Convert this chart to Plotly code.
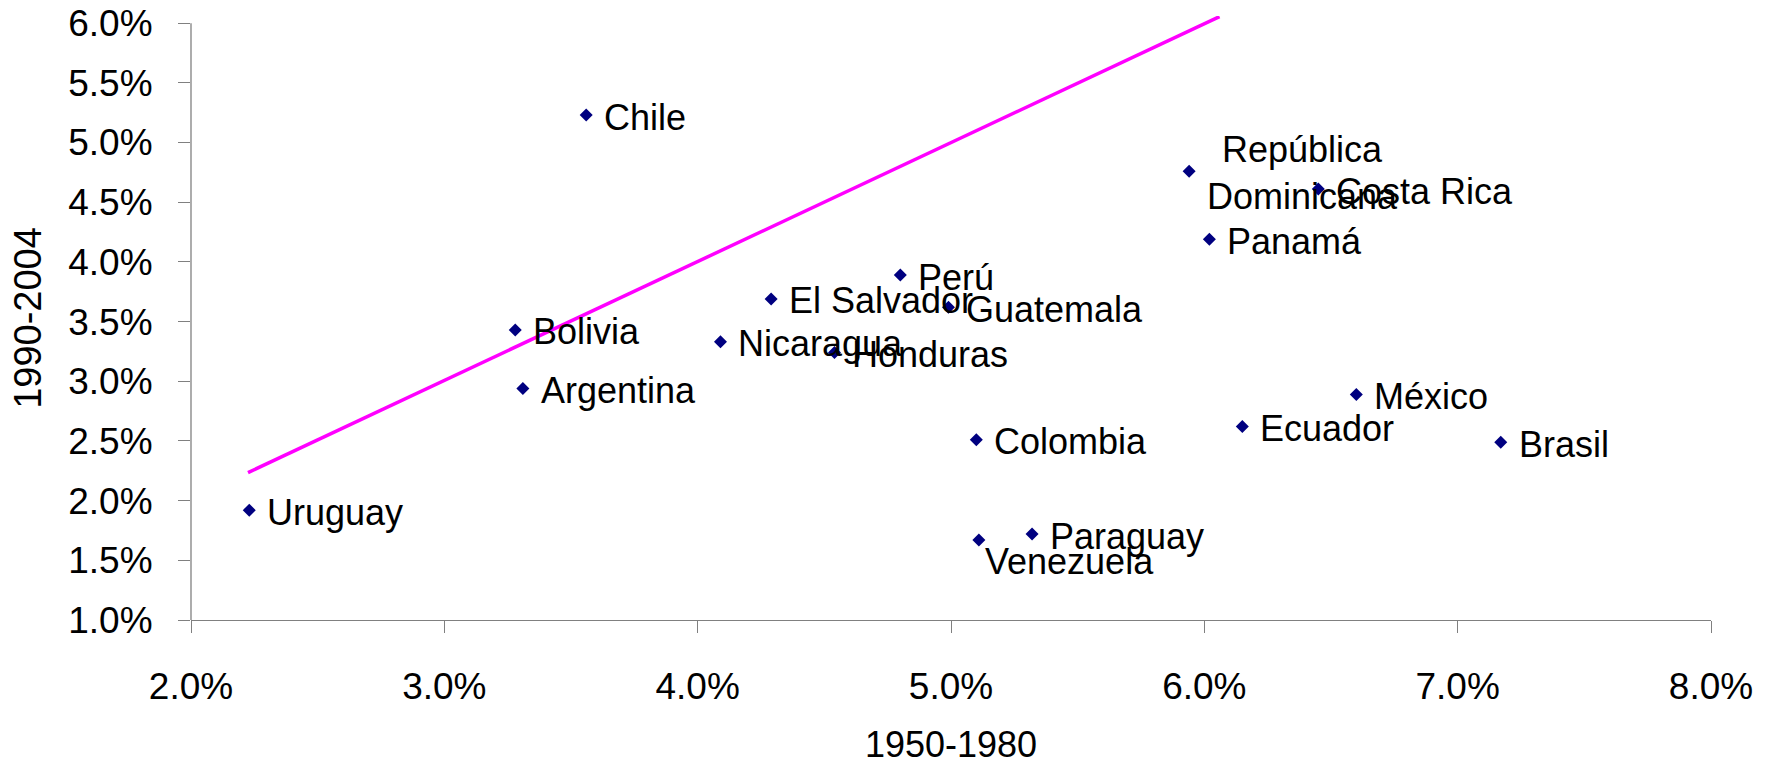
import plotly.graph_objects as go

# ---- data (growth rates, %) ----
countries = ["Chile", "Bolivia", "Argentina", "Uruguay", "Nicaragua", "El Salvador",
             "Perú", "Honduras", "Guatemala", "Colombia", "Venezuela", "Paraguay",
             "República<br>Dominicana", "Costa Rica", "Panamá", "Ecuador", "México", "Brasil"]
growth_1950_1980 = [3.56, 3.28, 3.31, 2.23, 4.09, 4.29, 4.80, 4.54, 4.99, 5.10, 5.11, 5.32,
                    5.94, 6.45, 6.02, 6.15, 6.60, 7.17]
growth_1990_2004 = [5.23, 3.43, 2.94, 1.92, 3.33, 3.69, 3.89, 3.24, 3.62, 2.51, 1.67, 1.72,
                    4.76, 4.61, 4.19, 2.62, 2.89, 2.49]

trend_x = [2.225, 6.06]
trend_y = [2.235, 6.055]

x_ticks = [2, 3, 4, 5, 6, 7, 8]
y_ticks = [1.0, 1.5, 2.0, 2.5, 3.0, 3.5, 4.0, 4.5, 5.0, 5.5, 6.0]

FONT = "Arial, 'Liberation Sans', sans-serif"
AXIS_GREY = "#808080"

# y range reaches a little above the top tick so the trend line is not cut off there
Y_MIN, Y_MAX, Y_TOP_TICK = 1.0, 6.06, 6.0
PLOT_TOP_PX, PLOT_BOTTOM_PX = 23.3, 620.0
px_per_unit = (PLOT_BOTTOM_PX - PLOT_TOP_PX) / (Y_TOP_TICK - Y_MIN)
top_margin = PLOT_TOP_PX - (Y_MAX - Y_TOP_TICK) * px_per_unit

# label offsets (pixels) where the label is not simply to the right
label_shift = {"Venezuela": (4, -21)}

fig = go.Figure()

fig.add_trace(go.Scatter(
    x=trend_x, y=trend_y, mode="lines",
    line=dict(color="#FF00FF", width=3.5),
    hoverinfo="skip", showlegend=False,
))

fig.add_trace(go.Scatter(
    x=growth_1950_1980, y=growth_1990_2004, mode="markers",
    marker=dict(symbol="diamond", size=10, color="#000080"),
    text=countries, cliponaxis=False, showlegend=False,
))

for name, xv, yv in zip(countries, growth_1950_1980, growth_1990_2004):
    dx, dy = label_shift.get(name, (16, -2))
    fig.add_annotation(
        x=xv, y=yv, xref="x", yref="y", text=name, showarrow=False,
        xanchor="left", yanchor="middle", xshift=dx, yshift=dy, align="center",
        font=dict(family=FONT, size=36, color="black"),
    )

# vertical axis line only up to the top tick (6.0%)
fig.add_shape(type="line", xref="paper", yref="y", x0=0, x1=0, y0=Y_MIN, y1=Y_TOP_TICK,
              line=dict(color=AXIS_GREY, width=1.3), layer="above")

fig.update_layout(
    width=1775, height=765,
    margin=dict(l=191, r=64, t=top_margin, b=765 - PLOT_BOTTOM_PX, autoexpand=False),
    paper_bgcolor="white", plot_bgcolor="white",
    font=dict(family=FONT, color="black"),
    showlegend=False,
)

fig.update_xaxes(
    range=[2, 8], tickvals=x_ticks, ticktext=[f"{v:.1f}%" for v in x_ticks],
    showgrid=False, zeroline=False, showline=True, linecolor=AXIS_GREY, linewidth=1.3,
    ticks="outside", ticklen=12, tickcolor=AXIS_GREY, tickwidth=1.3,
    tickfont=dict(family=FONT, size=37, color="black"), ticklabelstandoff=21,
    title=dict(text="1950-1980", font=dict(family=FONT, size=36, color="black"), standoff=27),
    automargin=False,
)
fig.update_yaxes(
    range=[Y_MIN, Y_MAX], tickvals=y_ticks, ticktext=[f"{v:.1f}%" for v in y_ticks],
    showgrid=False, zeroline=False, showline=False,
    ticks="outside", ticklen=12, tickcolor=AXIS_GREY, tickwidth=1.3,
    tickfont=dict(family=FONT, size=37, color="black"), ticklabelstandoff=18,
    title=dict(text="1990-2004", font=dict(family=FONT, size=38, color="black"), standoff=14),
    automargin=False,
)

fig.write_html("out.html", config={"displayModeBar": False},
               post_script="document.body.style.margin='0';")
